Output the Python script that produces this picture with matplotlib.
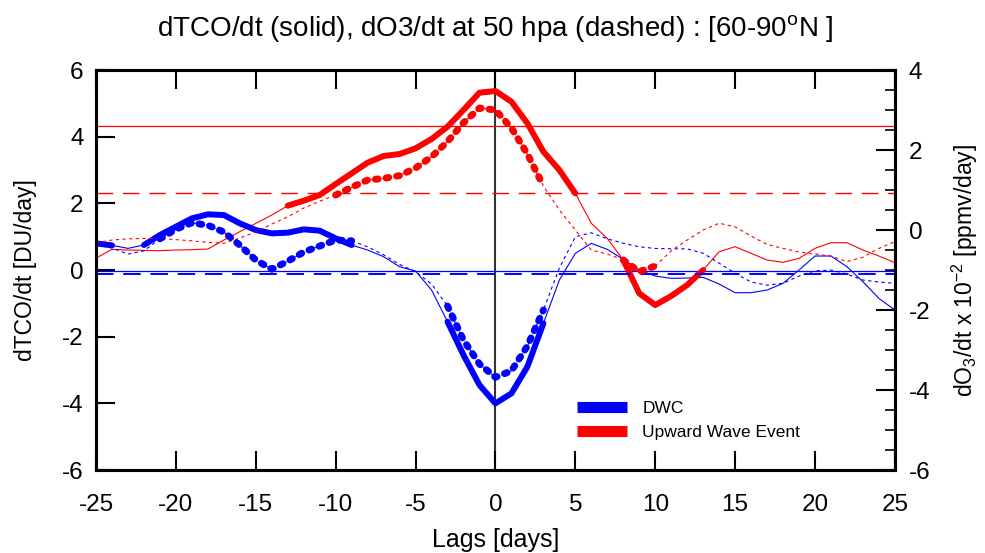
import matplotlib
matplotlib.use("Agg")
import matplotlib.pyplot as plt
import numpy as np
from matplotlib.lines import Line2D
from matplotlib.ticker import MultipleLocator

plt.rcParams['font.family'] = ['Liberation Sans', 'DejaVu Sans']
plt.rcParams['mathtext.fontset'] = 'custom'
plt.rcParams['mathtext.rm'] = 'Liberation Sans'
plt.rcParams['mathtext.it'] = 'Liberation Sans'
plt.rcParams['axes.unicode_minus'] = False

# ---------------- data ----------------
lags = list(range(-25, 26))

# dTCO/dt [DU/day] (left axis)
dwc_tco = [0.8, 0.74, 0.65, 0.75, 1.05, 1.3, 1.55, 1.67, 1.65, 1.4,
           1.2, 1.1, 1.12, 1.22, 1.18, 0.95, 0.75, 0.6, 0.4, 0.1,
           -0.03, -0.6, -1.55, -2.55, -3.45, -4.0, -3.7, -2.9, -1.6, -0.3,
           0.5, 0.8, 0.62, 0.32, 0.0, -0.18, -0.25, -0.24, -0.22, -0.42,
           -0.68, -0.68, -0.6, -0.4, 0.0, 0.42, 0.42, 0.1, -0.35, -0.85,
           -1.2]
uwe_tco = [0.36, 0.62, 0.6, 0.59, 0.58, 0.6, 0.61, 0.63, 0.9, 1.15,
           1.4, 1.65, 1.93, 2.08, 2.25, 2.58, 2.9, 3.22, 3.42, 3.48,
           3.65, 3.93, 4.3, 4.8, 5.32, 5.37, 5.05, 4.4, 3.55, 3.0,
           2.3, 1.4, 0.95, 0.3, -0.7, -1.05, -0.78, -0.45, 0.0, 0.55,
           0.7, 0.5, 0.3, 0.23, 0.35, 0.65, 0.82, 0.82, 0.6, 0.42,
           0.22]

# dO3/dt x 1e-2 [ppmv/day] (right axis)
dwc_o3 = [-0.37, -0.45, -0.6, -0.52, -0.22, 0.02, 0.18, 0.12, -0.05, -0.38,
          -0.75, -0.98, -0.78, -0.55, -0.4, -0.25, -0.27, -0.42, -0.62, -0.86,
          -1.04, -1.35, -1.9, -2.75, -3.35, -3.68, -3.52, -2.9, -2.0, -0.95,
          -0.17, -0.07, -0.22, -0.33, -0.42, -0.46, -0.47, -0.47, -0.58, -0.83,
          -1.08, -1.3, -1.38, -1.33, -1.15, -1.02, -1.0, -1.1, -1.25, -1.3,
          -1.33]
uwe_o3 = [-0.32, -0.25, -0.22, -0.21, -0.21, -0.24, -0.27, -0.31, -0.33, -0.2,
          -0.05, 0.15, 0.33, 0.55, 0.72, 0.875, 1.07, 1.25, 1.29, 1.36,
          1.55, 1.83, 2.21, 2.68, 3.05, 3.0, 2.55, 1.9, 1.1, 0.5,
          0.0, -0.5, -0.6, -0.75, -1.04, -0.9, -0.52, -0.25, 0.0, 0.17,
          0.08, -0.15, -0.36, -0.46, -0.55, -0.6, -0.65, -0.79, -0.68, -0.46,
          -0.29]

# significant lag ranges (thick segments)
dwc_tco_sig = [(-25, -24), (-22, -9), (-3, 3)]
uwe_tco_sig = [(-13, 5), (8, 13)]
dwc_o3_sig = [(-21, -9), (-3, 3)]
uwe_o3_sig = [(-10, 3), (8, 10)]

# threshold levels
uwe_tco_thr = 4.32
dwc_tco_thr = -0.03
uwe_o3_thr = 0.93
dwc_o3_thr = -1.1

legend_labels = ['DWC', 'Upward Wave Event']

BLUE = '#0000ff'
RED = '#ff0000'

fig = plt.figure(figsize=(9.85, 5.53), dpi=100)
ax = fig.add_axes([0.0975, 0.150, 0.811, 0.7234])
ax2 = ax.twinx()

lags_a = np.array(lags)


def seg(x, y, ranges):
    x = np.asarray(x); y = np.asarray(y)
    out = []
    for a, b in ranges:
        m = (x >= a) & (x <= b)
        out.append((x[m], y[m]))
    return out


# thresholds
ax.axhline(uwe_tco_thr, color=RED, lw=0.9)
ax.axhline(dwc_tco_thr, color=BLUE, lw=0.9)
ax2.axhline(uwe_o3_thr, color=RED, lw=1.0, ls=(0, (12, 7)))
ax2.axhline(dwc_o3_thr, color=BLUE, lw=1.4, ls=(0, (9, 5)))
ax.axvline(0, color='#333333', lw=1.5, zorder=1)

# thin lines
ax.plot(lags, dwc_tco, color=BLUE, lw=0.8)
ax.plot(lags, uwe_tco, color=RED, lw=0.8)
ax2.plot(lags, dwc_o3, color=BLUE, lw=0.8, ls=(0, (3, 3)))
ax2.plot(lags, uwe_o3, color=RED, lw=0.8, ls=(0, (3, 3)))

# thick segments
for xs, ys in seg(lags_a, dwc_tco, dwc_tco_sig):
    ax.plot(xs, ys, color=BLUE, lw=4.3, solid_capstyle='round', solid_joinstyle='round')
for xs, ys in seg(lags_a, uwe_tco, uwe_tco_sig):
    ax.plot(xs, ys, color=RED, lw=4.3, solid_capstyle='round', solid_joinstyle='round')
for xs, ys in seg(lags_a, dwc_o3, dwc_o3_sig):
    ax2.plot(xs, ys, color=BLUE, lw=5, ls=(0, (0.4, 1.15)), dash_capstyle='round')
for xs, ys in seg(lags_a, uwe_o3, uwe_o3_sig):
    ax2.plot(xs, ys, color=RED, lw=5, ls=(0, (0.4, 1.15)), dash_capstyle='round')

# axes
ax.set_xlim(-25, 25)
ax.set_ylim(-6, 6)
ax2.set_ylim(-6, 4)
ax.xaxis.set_major_locator(MultipleLocator(5))
ax.yaxis.set_major_locator(MultipleLocator(2))
ax2.yaxis.set_major_locator(MultipleLocator(2))
ax2.yaxis.set_minor_locator(MultipleLocator(0.5))

ax.tick_params(axis='x', which='major', direction='in', length=14, width=1.5,
               top=True, labelsize=17.5, pad=17)
ax.tick_params(axis='y', which='major', direction='in', length=14, width=1.5,
               labelsize=17.5, pad=9)
ax2.tick_params(axis='y', which='major', direction='in', length=14, width=1.5,
                labelsize=17.5, pad=10)
ax2.tick_params(axis='y', which='minor', direction='in', length=7, width=1.2)

for a in (ax, ax2):
    for s in a.spines.values():
        s.set_linewidth(2.2)

ax.set_xlabel('Lags [days]', fontsize=18, labelpad=9)
ax.set_ylabel('dTCO/dt [DU/day]', fontsize=16.5, labelpad=18)
ax2.set_ylabel(r'dO$_3$/dt x 10$^{-2}$ [ppmv/day]', fontsize=16.5, labelpad=14)

fig.text(0.503, 0.949,
         r'dTCO/dt (solid), dO3/dt at 50 hpa (dashed) : [60-90$^{\rm o}$N ]',
         fontsize=20, ha='center', va='center')

handles = [Line2D([0], [0], color=BLUE, lw=8, solid_capstyle='butt'),
           Line2D([0], [0], color=RED, lw=8, solid_capstyle='butt')]
ax.legend(handles, legend_labels, loc='upper left',
          bbox_to_anchor=(0.602, 0.173), frameon=False, fontsize=12.5,
          borderpad=0, borderaxespad=0,
          handlelength=2.9, handletextpad=0.86, labelspacing=0.5)

fig.savefig('out.png', dpi=100)
